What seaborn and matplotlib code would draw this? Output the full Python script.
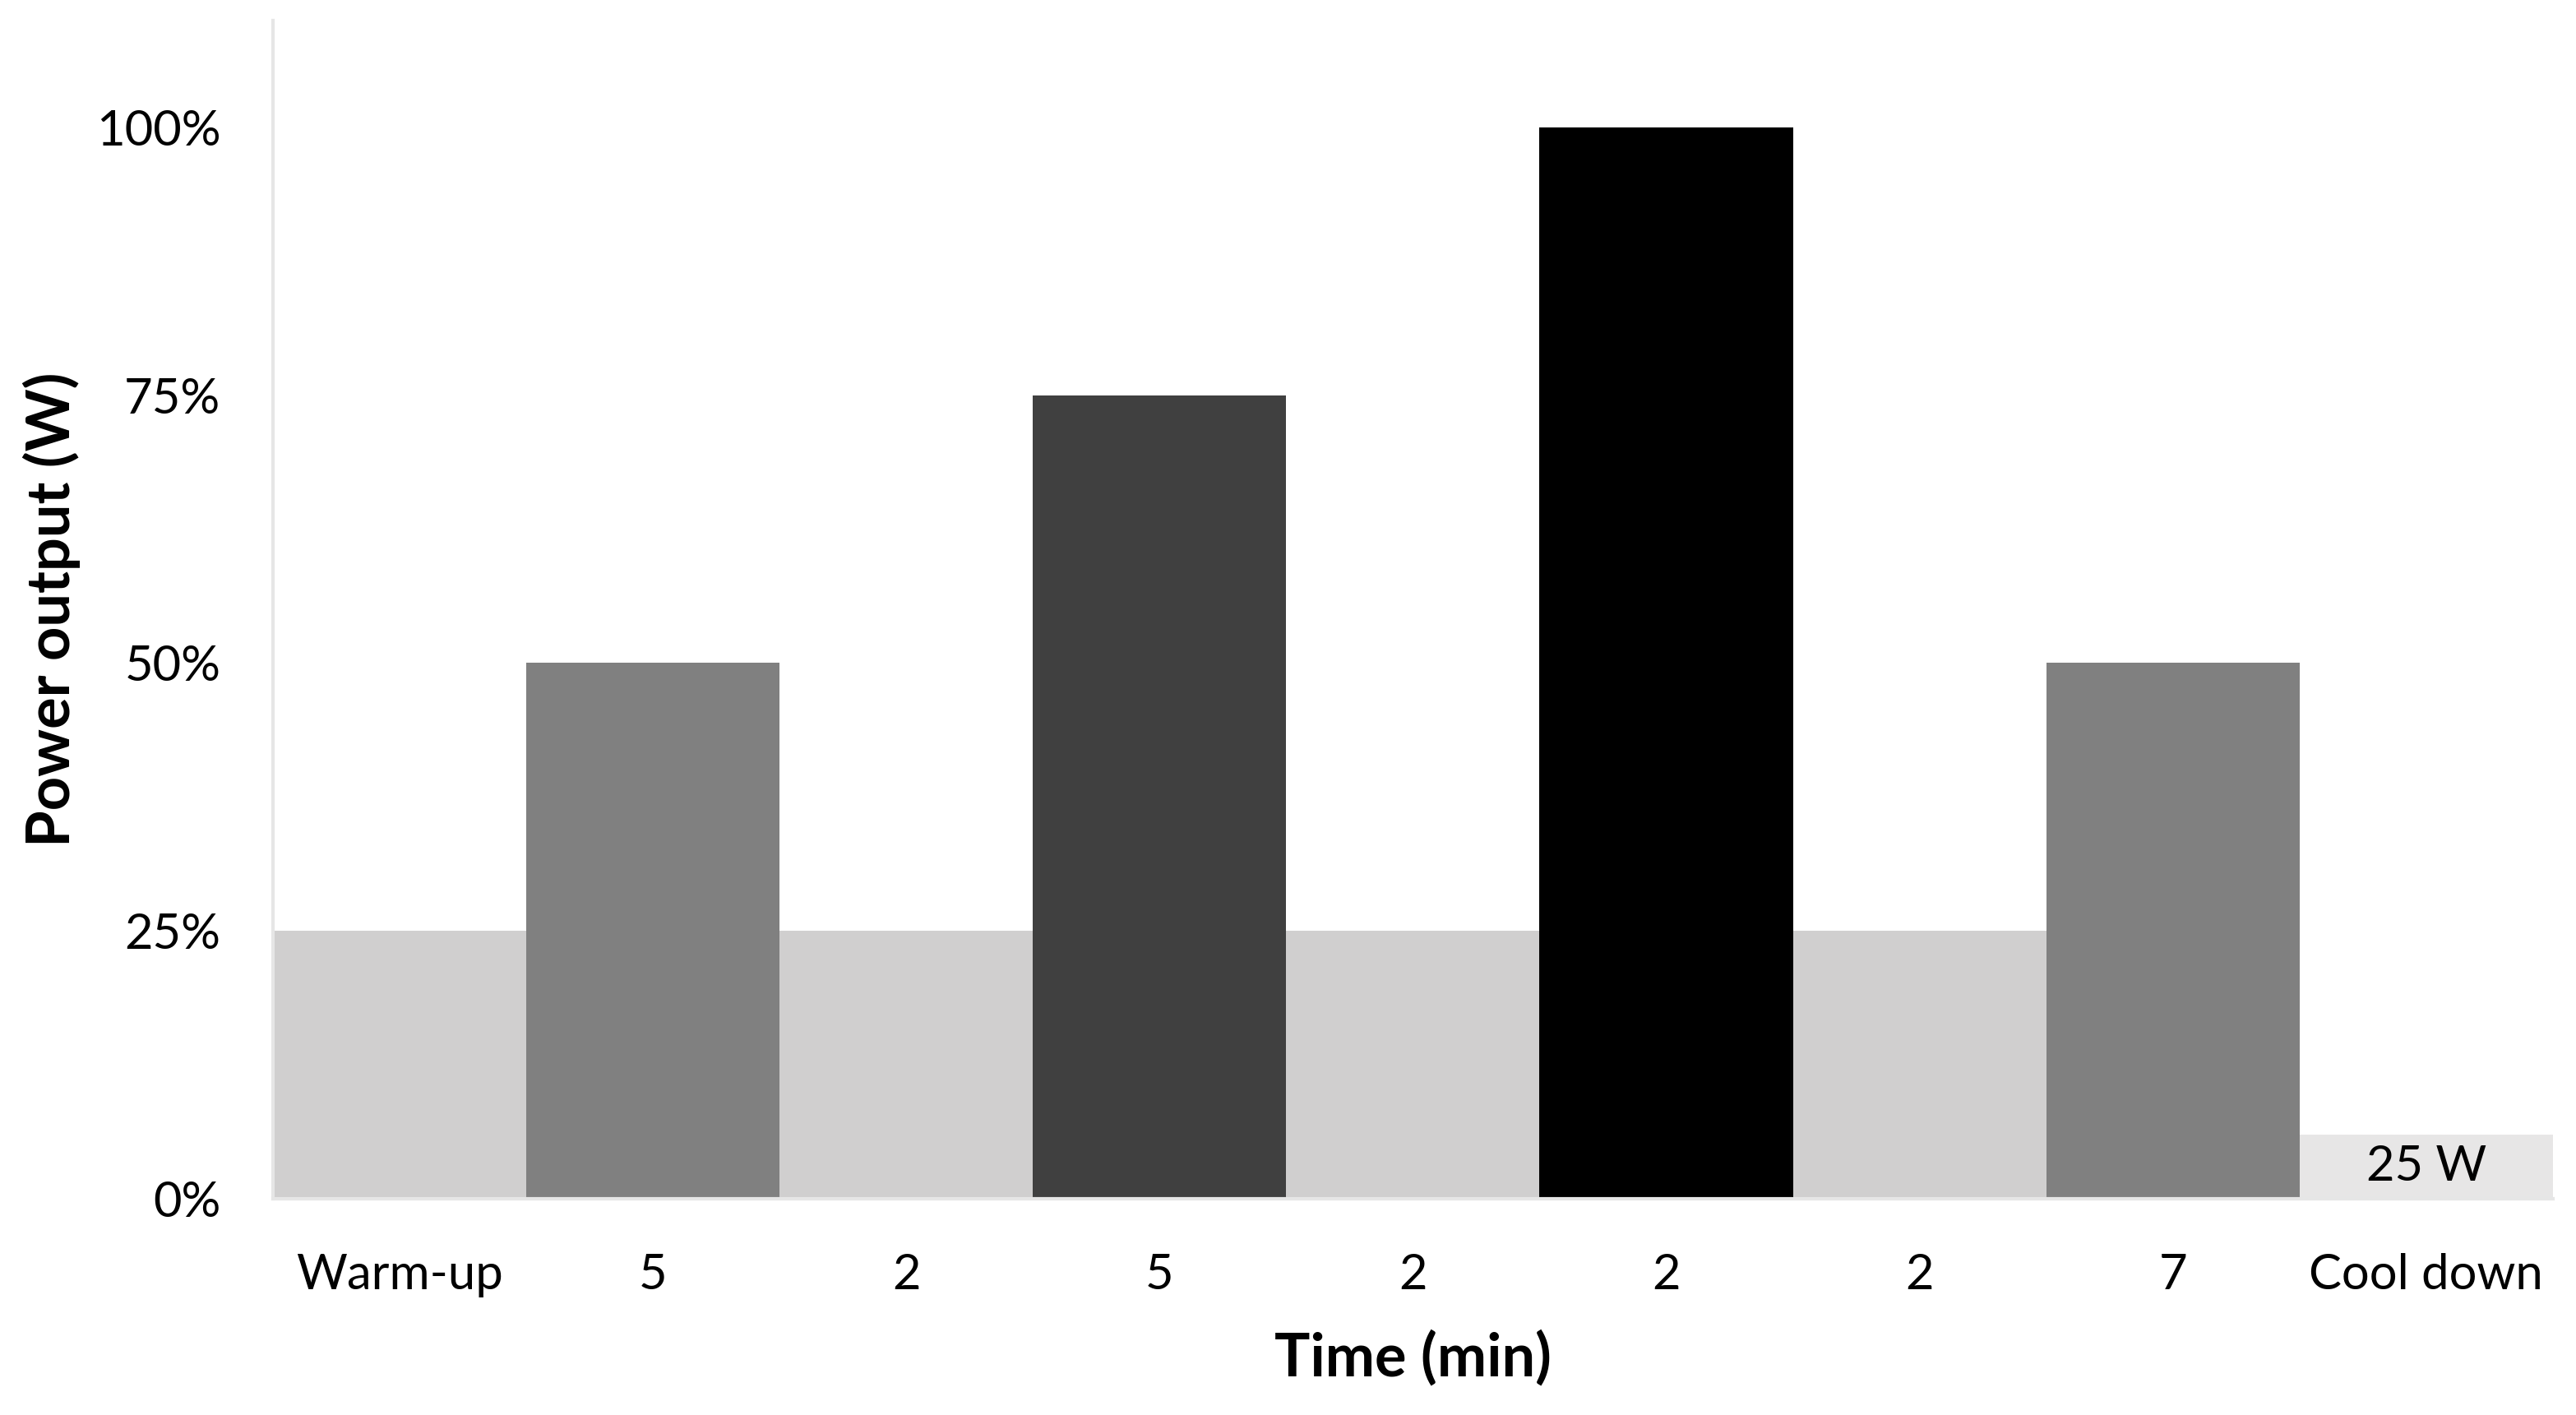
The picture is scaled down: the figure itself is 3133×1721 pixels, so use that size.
import matplotlib
matplotlib.use("Agg")
import matplotlib.pyplot as plt
import seaborn as sns
import pandas as pd
from matplotlib.ticker import PercentFormatter

# Data
steps = ["s0", "s1", "s2", "s3", "s4", "s5", "s6", "s7", "s8"]
tick_labels = ["Warm-up", "5", "2", "5", "2", "2", "2", "7", "Cool down"]
power = [0.25, 0.50, 0.25, 0.75, 0.25, 1.00, 0.25, 0.50, 0.06]
colors = ["#d0cfcf", "#808080", "#d0cfcf", "#404040", "#d0cfcf",
          "#000000", "#d0cfcf", "#808080", "#e7e6e6"]
cooldown_text = "25 W"

sns.set_theme(style="white")
plt.rcParams["font.family"] = ["Lato", "DejaVu Sans"]

df = pd.DataFrame({"step": steps, "power": power})

fig = plt.figure(figsize=(3133 / 200, 1721 / 200), dpi=200)
ax = fig.add_axes([0.106, 0.153, 0.885, 0.8325])

sns.barplot(data=df, x="step", y="power", hue="step", palette=colors,
            order=steps, hue_order=steps, width=1.0, legend=False,
            saturation=1.0, linewidth=0, ax=ax)

ax.set_xlim(-0.5, len(steps) - 0.5)
ax.set_ylim(0, 1.1)
ax.set_yticks([0, 0.25, 0.5, 0.75, 1.0])
ax.yaxis.set_major_formatter(PercentFormatter(1.0, decimals=0))
ax.set_xticks(range(len(steps)))
ax.set_xticklabels(tick_labels)
ax.tick_params(axis="both", length=0, labelsize=21.5, colors="black")
ax.tick_params(axis="x", pad=24)
ax.tick_params(axis="y", pad=23)

for side in ["top", "right"]:
    ax.spines[side].set_visible(False)
for side in ["left", "bottom"]:
    ax.spines[side].set_color("#e6e6e6")
    ax.spines[side].set_linewidth(1.5)

ax.text(len(steps) - 1, power[-1] / 2, cooldown_text, ha="center",
        va="center", fontsize=21.5, color="black")

ax.set_xlabel("Time (min)", fontsize=26, fontweight="bold", labelpad=14,
              color="black")
ax.set_ylabel("Power output (W)", fontsize=26, fontweight="bold",
              color="black")
ax.yaxis.set_label_coords(-0.0845, 0.5)

fig.savefig("out.png", dpi=200, facecolor="white")
